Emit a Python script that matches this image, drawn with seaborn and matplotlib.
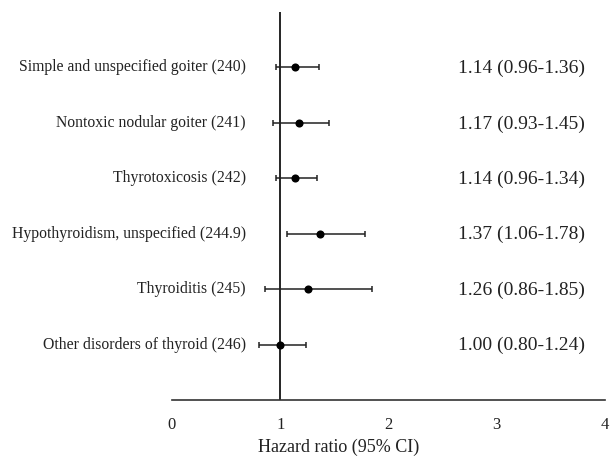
import matplotlib
matplotlib.use("Agg")
import matplotlib.pyplot as plt
import seaborn as sns
import pandas as pd

categories = [
    "Simple and unspecified goiter (240)",
    "Nontoxic nodular goiter (241)",
    "Thyrotoxicosis (242)",
    "Hypothyroidism, unspecified (244.9)",
    "Thyroiditis (245)",
    "Other disorders of thyroid (246)",
]
hr = [1.14, 1.17, 1.14, 1.37, 1.26, 1.00]
lower = [0.96, 0.93, 0.96, 1.06, 0.86, 0.80]
upper = [1.36, 1.45, 1.34, 1.78, 1.85, 1.24]
xticks = [0, 1, 2, 3, 4]
xlabel = "Hazard ratio (95% CI)"

sns.set_style("white")
plt.rcParams["font.family"] = ["Liberation Serif", "DejaVu Serif"]

n = len(categories)
df = pd.DataFrame({
    "cat": categories,
    "hr": hr,
    "lo": lower,
    "hi": upper,
    "pos": [n - i for i in range(n)],
})

fig = plt.figure(figsize=(6.10, 4.57), dpi=100)
ax = fig.add_axes([172 / 610, 1 - 400 / 457, 433 / 610, 388 / 457])

ax.errorbar(df["hr"], df["pos"],
            xerr=[df["hr"] - df["lo"], df["hi"] - df["hr"]],
            fmt="none", ecolor="#222222", elinewidth=1.1, capsize=2.2, capthick=1.1)
sns.scatterplot(data=df, x="hr", y="pos", ax=ax, color="black", s=34,
                edgecolor="black", linewidth=0, zorder=3)

ax.axvline(1, color="black", lw=1.2, zorder=1)

ax.set_xlim(0, 4)
ax.set_ylim(0, n + 1)
ax.set_xticks(xticks)
ax.set_xticklabels([str(t) for t in xticks], fontsize=12)
ax.tick_params(axis="x", direction="in", length=3, width=1, pad=12, colors="#222222")
ax.set_yticks([])
ax.set_xlabel(xlabel, fontsize=13, color="#222222")
ax.xaxis.set_label_coords((339 - 172) / 433, -0.100)
ax.set_ylabel("")

for s in ["left", "right", "top"]:
    ax.spines[s].set_visible(False)
ax.spines["bottom"].set_color("#333333")
ax.spines["bottom"].set_linewidth(1.2)

for _, r in df.iterrows():
    ax.text((246 - 172) / 433, r["pos"], r["cat"], transform=ax.get_yaxis_transform(),
            ha="right", va="center", fontsize=11.3, color="#222222")
    ax.text((458 - 172) / 433, r["pos"] - 0.02,
            f"{r['hr']:.2f} ({r['lo']:.2f}-{r['hi']:.2f})",
            transform=ax.get_yaxis_transform(),
            ha="left", va="center", fontsize=14, color="#222222")

fig.savefig("out.png", dpi=100, facecolor="white")
